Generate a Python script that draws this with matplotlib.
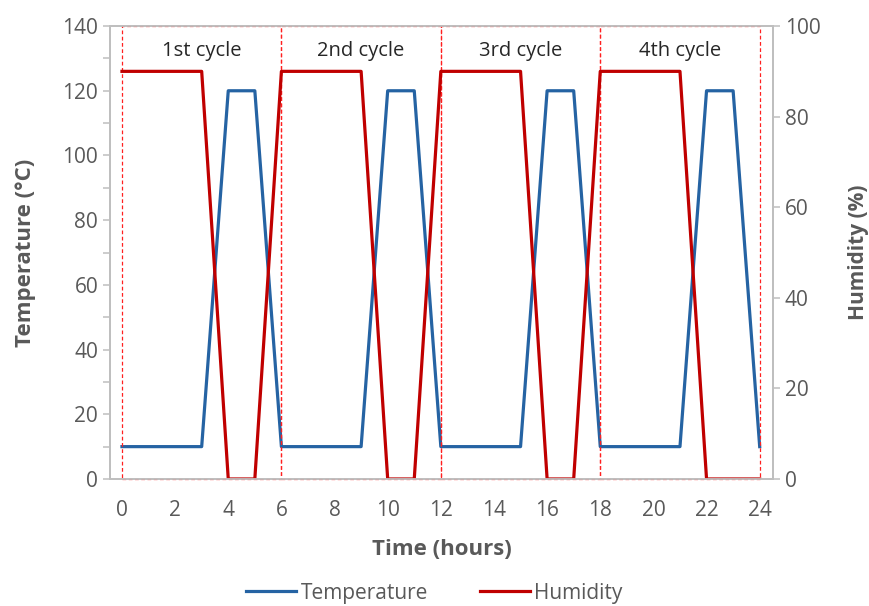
import matplotlib
matplotlib.use("Agg")
import matplotlib.pyplot as plt
from matplotlib.patches import Rectangle
from matplotlib.ticker import MultipleLocator

plt.rcParams['font.family'] = ['Open Sans', 'DejaVu Sans']

# one point per corner of the cycle profile
hours = [0, 3, 4, 5, 6, 9, 10, 11, 12, 15, 16, 17, 18, 21, 22, 23, 24]
temperature = [10, 10, 120, 120, 10, 10, 120, 120, 10, 10, 120, 120, 10, 10, 120, 120, 10]
humidity = [90, 90, 0, 0, 90, 90, 0, 0, 90, 90, 0, 0, 90, 90, 0, 0, 0]

cycle_starts = [0, 6, 12, 18]
cycle_length = 6
cycle_labels = ['1st cycle', '2nd cycle', '3rd cycle', '4th cycle']

blue = '#2563A3'
red = '#C00000'
grey = '#BFBFBF'
tick_col = '#595959'

fig = plt.figure(figsize=(8.69, 6.06), dpi=100)
ax = fig.add_axes([0.1266, 0.2096, 0.7629, 0.7474])
ax2 = ax.twinx()

l1, = ax.plot(hours, temperature, color=blue, lw=2.3, label='Temperature')
l2, = ax2.plot(hours, humidity, color=red, lw=2.3, label='Humidity')

ax.set_xlim(-0.45, 24.5)
ax.set_ylim(0, 140)
ax2.set_ylim(0, 100)

ax.set_xticks(range(0, 25, 2))
ax.yaxis.set_major_locator(MultipleLocator(20))
ax.yaxis.set_minor_locator(MultipleLocator(10))
ax2.yaxis.set_major_locator(MultipleLocator(20))

# dashed box around every cycle, with its name on top
for start, name in zip(cycle_starts, cycle_labels):
    ax.add_patch(Rectangle((start, 0), cycle_length, 140, fill=False,
                           edgecolor='#FF2020', lw=0.9, ls=(0, (3, 2)),
                           clip_on=False, zorder=3))
    ax.text(start + cycle_length / 2, 132.3, name, ha='center', va='center',
            fontsize=14.5, color='#262626')

for a in (ax, ax2):
    for s in a.spines.values():
        s.set_color(grey)
        s.set_linewidth(1.3)
    a.tick_params(axis='both', colors=grey, labelcolor=tick_col,
                  labelsize=15, length=5, width=1.1)
ax.tick_params(axis='y', which='minor', colors=grey, length=5, width=1.1)
ax.tick_params(axis='x', length=0, pad=15)

ax.set_xlabel('Time (hours)', fontsize=16, fontweight='bold', color=tick_col, labelpad=13)
ax.set_ylabel('Temperature (°C)', fontsize=16, fontweight='bold', color=tick_col, labelpad=19)
ax2.set_ylabel('Humidity (%)', fontsize=15, fontweight='bold', color=tick_col, labelpad=20)

fig.legend(handles=[l1, l2], loc='center', bbox_to_anchor=(0.5, 0.021), ncol=2,
           frameon=False, fontsize=15, labelcolor=tick_col, handlelength=2.4,
           handletextpad=0.2, columnspacing=2.5)

fig.savefig('out.png', dpi=100)
